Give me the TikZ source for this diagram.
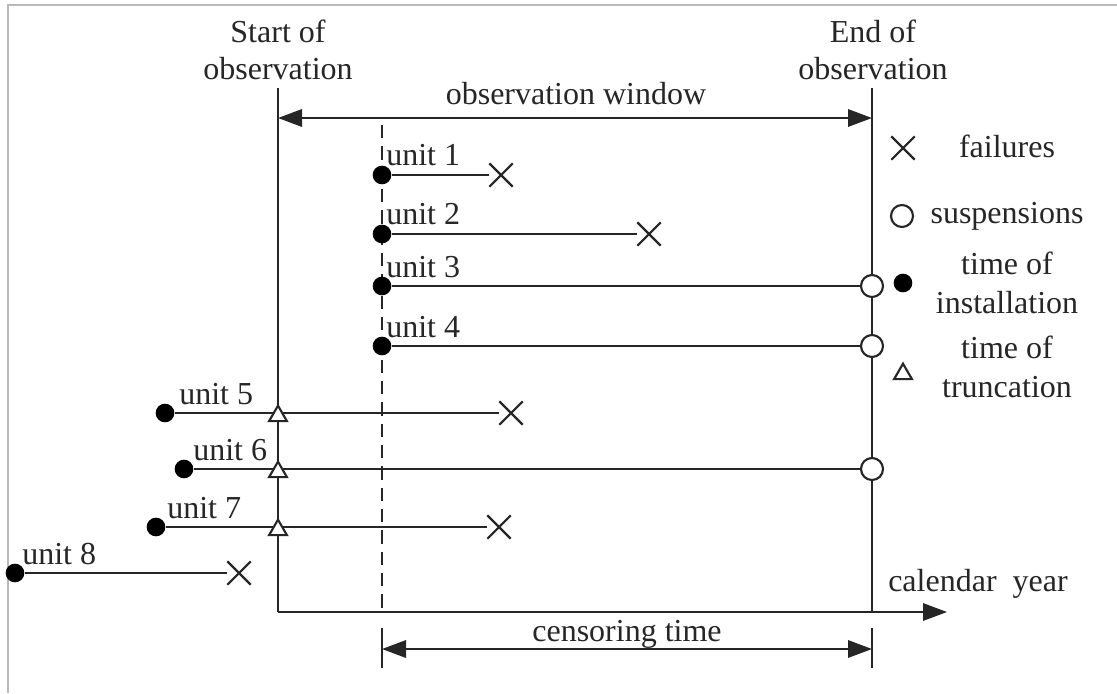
\documentclass[tikz,border=0pt]{standalone}
\usepackage{fontspec}
\setmainfont{Liberation Serif}
\usetikzlibrary{arrows.meta,shapes.geometric,shapes.misc,backgrounds}
\begin{document}
\begin{tikzpicture}[x=0.75pt,y=-0.75pt,
  ln/.style={line width=1.7pt,draw=black!85},
  txt/.style={font=\fontsize{24}{28}\selectfont, inner sep=0pt, text=black!85},
  lgtxt/.style={font=\fontsize{24}{29}\selectfont, inner sep=0pt, text=black!85, align=center},
  dotmark/.style={circle,fill=black,minimum size=14pt,inner sep=0pt},
  suspmark/.style={circle,draw=black!85,fill=white,line width=1.6pt,minimum size=16.5pt,inner sep=0pt},
  failmark/.style={cross out,draw=black!85,line width=1.6pt,minimum size=16pt,inner sep=0pt},
  truncmark/.style={regular polygon,regular polygon sides=3,draw=black!85,fill=white,line width=1.6pt,minimum size=15.5pt,inner sep=0pt},
  tip/.tip={Triangle[length=18pt,width=13pt]},
  dashline/.style={line width=1.6pt,draw=black!85,dash pattern=on 10pt off 6pt},
]
\useasboundingbox (0,0) rectangle (1117,693);
% headers and axis texts
\node[txt,align=center,anchor=south] (hs) at (278,80) {Start of\\observation};
\node[txt,align=center,anchor=south] (he) at (873,80) {End of\\observation};
\node[txt,anchor=base] (owl) at (576,104) {observation window};
\node[txt,anchor=base] (ctl) at (627,641) {censoring time};
\node[txt,anchor=base west] (cal) at (888,591) {calendar\ \ year};

\coordinate (st) at (278,88);
\coordinate (sb) at (278,612);
\coordinate (et) at (872,88);
\coordinate (eb) at (872,612);
\coordinate (ax) at (947,612);
\coordinate (ow1) at (278,118);
\coordinate (ow2) at (872,118);
\coordinate (dt) at (382,125);
\coordinate (db) at (382,612);
\coordinate (c1t) at (382,628);
\coordinate (c1b) at (382,668);
\coordinate (c2t) at (872,628);
\coordinate (c2b) at (872,668);
\coordinate (c1) at (382,649);
\coordinate (c2) at (872,649);

% unit markers
\node[dotmark] (d1) at (382,175) {};
\node[failmark] (x1) at (501,175) {};
\node[dotmark] (d2) at (382,234) {};
\node[failmark] (x2) at (649,234) {};
\node[dotmark] (d3) at (382,286) {};
\node[suspmark] (s3) at (872,286) {};
\node[dotmark] (d4) at (382,346) {};
\node[suspmark] (s4) at (872,346) {};
\node[dotmark] (d5) at (165,413) {};
\node[truncmark] (t5) at (278,416) {};
\node[failmark] (x5) at (511,413) {};
\node[dotmark] (d6) at (184,469) {};
\node[truncmark] (t6) at (278,472) {};
\node[suspmark] (s6) at (872,469) {};
\node[dotmark] (d7) at (156,527) {};
\node[truncmark] (t7) at (278,530) {};
\node[failmark] (x7) at (499,527) {};
\node[dotmark] (d8) at (15,573) {};
\node[failmark] (x8) at (239,573) {};

% unit labels
\node[txt,anchor=base west] (u1) at (386,165) {unit 1};
\node[txt,anchor=base west] (u2) at (386,224) {unit 2};
\node[txt,anchor=base west] (u3) at (386,277) {unit 3};
\node[txt,anchor=base west] (u4) at (386,337) {unit 4};
\node[txt,anchor=base west] (u5) at (179,404) {unit 5};
\node[txt,anchor=base west] (u6) at (193,460) {unit 6};
\node[txt,anchor=base west] (u7) at (167,518) {unit 7};
\node[txt,anchor=base west] (u8) at (22,564) {unit 8};

% legend
\node[failmark] (lx) at (903,148) {};
\node[txt,anchor=base] (lxt) at (1007,157) {failures};
\node[suspmark] (ls) at (902,216) {};
\node[txt,anchor=base] (lst) at (1007,223) {suspensions};
\node[dotmark] (ld) at (903,283) {};
\node[lgtxt,anchor=south] (ldt) at (1007,314) {time of\\installation};
\node[truncmark] (lt) at (903,374) {};
\node[lgtxt,anchor=south] (ltt) at (1007,398) {time of\\truncation};

\begin{scope}[on background layer]
  \fill[white] (0,0) rectangle (1117,693);
  \draw[gray!55,line width=0.8pt] (8,693) -- (8,5) -- (1117,5);
  \draw[ln] (st) -- (sb);
  \draw[ln] (et) -- (eb);
  \draw[ln,-tip] (sb) -- (ax);
  \draw[ln,tip-tip] (ow1) -- (ow2);
  \draw[dashline] (dt) -- (db);
  \draw[ln] (c1t) -- (c1b);
  \draw[ln] (c2t) -- (c2b);
  \draw[ln,tip-tip] (c1) -- (c2);
  \draw[ln] (d1) -- (x1);
  \draw[ln] (d2) -- (x2);
  \draw[ln] (d3) -- (s3);
  \draw[ln] (d4) -- (s4);
  \draw[ln] (d5) -- (x5);
  \draw[ln] (d6) -- (s6);
  \draw[ln] (d7) -- (x7);
  \draw[ln] (d8) -- (x8);
\end{scope}
\end{tikzpicture}
\end{document}
